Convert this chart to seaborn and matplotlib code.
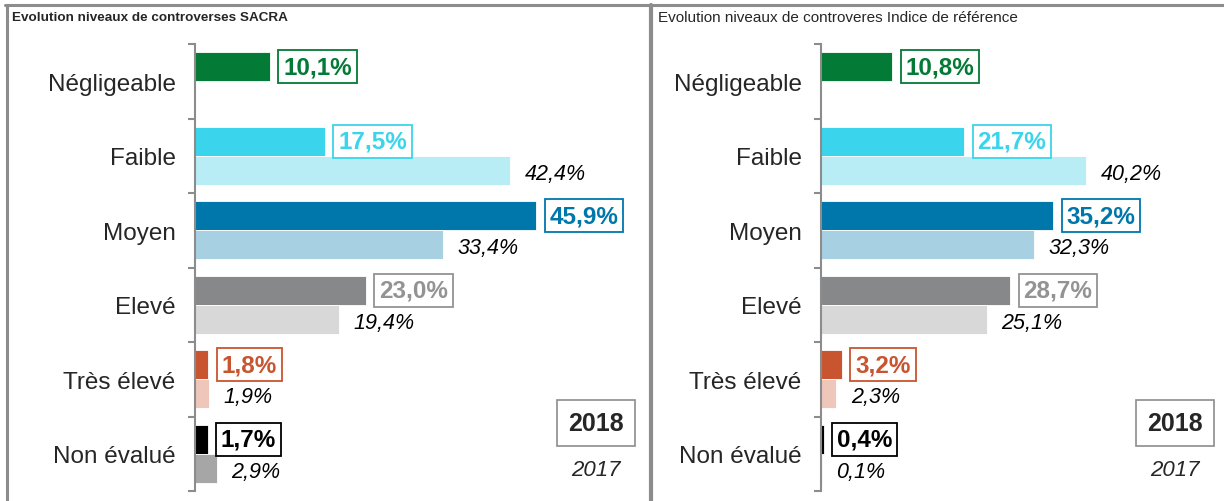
import numpy as np
import pandas as pd
import matplotlib.pyplot as plt
from matplotlib.lines import Line2D
import seaborn as sns

# data
categories = ['Négligeable', 'Faible', 'Moyen', 'Elevé', 'Très élevé', 'Non évalué']
years = ['2018', '2017']
sacra_2018 = [10.1, 17.5, 45.9, 23.0, 1.8, 1.7]
sacra_2017 = [np.nan, 42.4, 33.4, 19.4, 1.9, 2.9]
ref_2018 = [10.8, 21.7, 35.2, 28.7, 3.2, 0.4]
ref_2017 = [np.nan, 40.2, 32.3, 25.1, 2.3, 0.1]
titles = ['Evolution niveaux de controverses SACRA',
          'Evolution niveaux de controveres Indice de référence']

dark_colors = ['#037A35', '#3AD4EC', '#0077AB', '#868889', '#C8552F', '#000000']
light_colors = ['#FFFFFF', '#B9EDF6', '#A8D0E3', '#D7D8D7', '#EEC6BA', '#A6A6A6']
label_colors = ['#037A35', '#3AD4EC', '#0077AB', '#939393', '#C8552F', '#000000']

sns.set_theme(style='white')
plt.rcParams['font.family'] = ['Liberation Sans', 'DejaVu Sans']

fig = plt.figure(figsize=(12.24, 5.02), dpi=100)
W, H = 1224, 502


def fmt(v):
    return f'{v:.1f}%'.replace('.', ',')


def draw_panel(rect, v2018, v2017):
    ax = fig.add_axes(rect)
    df = pd.DataFrame({
        'cat': categories * 2,
        'year': ['2018'] * 6 + ['2017'] * 6,
        'value': list(v2018) + list(v2017),
    })
    df['plot'] = df['value'].fillna(0)
    sns.barplot(data=df, y='cat', x='plot', hue='year', hue_order=years,
                order=categories, orient='h', ax=ax, width=0.78,
                legend=False, palette=['#000000', '#999999'])
    for bar, c in zip(ax.containers[0], dark_colors):
        bar.set_facecolor(c)
        bar.set_edgecolor('white')
        bar.set_linewidth(0.6)
    for bar, c in zip(ax.containers[1], light_colors):
        bar.set_facecolor(c)
        bar.set_edgecolor('white')
        bar.set_linewidth(0.6)

    # value labels
    for i, (bar, v) in enumerate(zip(ax.containers[0], v2018)):
        y = bar.get_y() + bar.get_height() / 2
        ax.annotate(fmt(v), (v, y), xytext=(9.5, 0), textcoords='offset points',
                    ha='left', va='center', fontsize=17.5, fontweight='bold',
                    color=label_colors[i],
                    bbox=dict(boxstyle='square,pad=0.2', fc='white',
                              ec=label_colors[i], lw=1.3))
    for i, (bar, v) in enumerate(zip(ax.containers[1], v2017)):
        if np.isnan(v):
            continue
        y = bar.get_y() + bar.get_height() / 2
        ax.annotate(fmt(v), (v, y), xytext=(10.5, -2), textcoords='offset points',
                    ha='left', va='center', fontsize=15.5, fontstyle='italic',
                    color='black')

    ax.set_xlim(0, 60)
    ax.set_ylim(5.5, -0.5)
    ax.set_xlabel('')
    ax.set_ylabel('')
    ax.set_xticks([])
    for s in ['top', 'right', 'bottom']:
        ax.spines[s].set_visible(False)
    ax.spines['left'].set_color('#8C8C8C')
    ax.spines['left'].set_linewidth(1.5)
    ax.set_yticks(range(6))
    ax.set_yticklabels(categories, fontsize=17.5)
    ax.tick_params(axis='y', which='major', length=0, pad=14)
    ax.set_yticks(np.arange(-0.5, 6, 1), minor=True)
    ax.tick_params(axis='y', which='minor', length=5, width=1.5,
                   color='#8C8C8C', direction='out', left=True)
    ax.set_facecolor('white')
    return ax


ax1 = draw_panel([195 / W, 10 / H, 446 / W, 447 / H], sacra_2018, sacra_2017)
ax2 = draw_panel([821 / W, 10 / H, 396 / W, 447 / H], ref_2018, ref_2017)

# titles
fig.text(12 / W, 1 - 18 / H, titles[0], fontsize=9.7, fontweight='bold',
         ha='left', va='center')
fig.text(658 / W, 1 - 18 / H, titles[1], fontsize=11,
         ha='left', va='center')

# legend boxes
for x in [596, 1175]:
    fig.text(x / W, 1 - 424 / H, '2018', fontsize=18, fontweight='bold',
             ha='center', va='center',
             bbox=dict(boxstyle='square,pad=0.45', fc='white', ec='#8C8C8C', lw=1.2))
    fig.text(x / W, 1 - 471 / H, '2017', fontsize=16, fontstyle='italic',
             ha='center', va='center')

# panel frames
frame = dict(color='#8C8C8C', lw=2.2, transform=fig.transFigure)
fig.add_artist(Line2D([5 / W, 1], [1 - 6 / H, 1 - 6 / H], **frame))
fig.add_artist(Line2D([7 / W, 7 / W], [0, 1 - 6 / H], **frame))
fig.add_artist(Line2D([651 / W, 651 / W], [0, 1 - 6 / H], color='#8C8C8C', lw=3,
                      transform=fig.transFigure))

fig.savefig('out.png', dpi=100, facecolor='white')
